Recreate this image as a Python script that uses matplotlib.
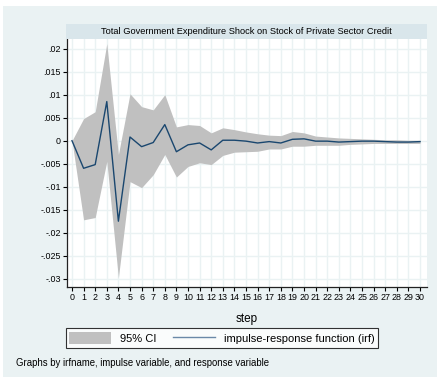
import matplotlib
matplotlib.use("Agg")
import matplotlib.pyplot as plt
from matplotlib.patches import Rectangle, Patch
from matplotlib.lines import Line2D

plt.rcParams['font.family'] = ['Liberation Sans Narrow', 'Liberation Sans', 'DejaVu Sans']

# irf results, step 0..30
steps = list(range(0, 31))
irf = [0, -0.0060, -0.0052, 0.0085, -0.0175, 0.0008, -0.0013, -0.0004, 0.0035, -0.0024,
       -0.0009, -0.0005, -0.0020, 0.0001, 0.0001, -0.0001, -0.0005, -0.0002, -0.0005, 0.0003,
       0.0004, -0.0001, -0.0001, -0.0003, -0.0002, -0.0001, -0.0001, -0.0002, -0.0003, -0.0003,
       -0.0002]
ci_upper = [0, 0.0048, 0.0063, 0.0211, -0.0030, 0.0102, 0.0074, 0.0067, 0.0100, 0.0030,
            0.0035, 0.0033, 0.0017, 0.0028, 0.0024, 0.0019, 0.0015, 0.0012, 0.0011, 0.0020,
            0.0017, 0.0010, 0.0008, 0.0006, 0.0005, 0.0004, 0.0003, 0.0002, 0.0002, 0.0001,
            0.0001]
ci_lower = [0, -0.0172, -0.0167, -0.0045, -0.0298, -0.0089, -0.0102, -0.0074, -0.0030, -0.0079,
            -0.0056, -0.0048, -0.0052, -0.0032, -0.0025, -0.0024, -0.0023, -0.0018, -0.0018, -0.0012,
            -0.0012, -0.0010, -0.0010, -0.0010, -0.0008, -0.0007, -0.0006, -0.0006, -0.0006, -0.0006,
            -0.0006]
yticks = [0.02, 0.015, 0.01, 0.005, 0, -0.005, -0.01, -0.015, -0.02, -0.025, -0.03]
ytick_labels = [".02", ".015", ".01", ".005", "0", "-.005", "-.01", "-.015", "-.02", "-.025", "-.03"]

title = "Total Government Expenditure Shock on Stock of Private Sector Credit"
note = "Graphs by irfname, impulse variable, and response variable"

bg = "#eaf2f3"
band_col = "#c0c0c0"
line_col = "#1a476f"

W, H = 437, 377
fig = plt.figure(figsize=(W / 100, H / 100), dpi=100, facecolor="white")
fig.patches.append(Rectangle((3 / W, 0), 1, 1 - 6 / H, transform=fig.transFigure,
                             facecolor=bg, edgecolor="none", zorder=-10))

ax = fig.add_axes([67 / W, 1 - 287 / H, 360 / W, 248 / H])
ax.set_facecolor("white")
ax.fill_between(steps, ci_lower, ci_upper, color=band_col, linewidth=0, zorder=2)
ax.plot(steps, irf, color=line_col, linewidth=1.0, zorder=3)

ax.set_xlim(-0.43, 30.6)
ax.set_ylim(-0.0318, 0.0221)
ax.set_xticks(steps)
ax.set_xticklabels([str(s) for s in steps], fontsize=6.4)
ax.set_yticks(yticks)
ax.set_yticklabels(ytick_labels, fontsize=6.4)
ax.grid(True, color=bg, linewidth=1.0, zorder=0)
ax.set_axisbelow(True)
for side in ["top", "right"]:
    ax.spines[side].set_visible(False)
ax.spines["left"].set_linewidth(0.9)
ax.spines["bottom"].set_linewidth(0.9)
ax.spines["left"].set_color("#222222")
ax.spines["bottom"].set_color("#222222")
ax.tick_params(axis="both", length=3, width=0.8, pad=1.5, colors="black")
ax.set_xlabel("step", fontsize=8.5, labelpad=8)

# title band above the plot region
fig.patches.append(Rectangle((66 / W, 1 - 39 / H), 361 / W, 15 / H, transform=fig.transFigure,
                             facecolor="#d9e6eb", edgecolor="none"))
fig.text((66 + 427) / 2 / W, 1 - 31.5 / H, title, ha="center", va="center", fontsize=6.7)

handles = [Patch(facecolor=band_col, edgecolor="none"),
           Line2D([], [], color="#6b89a8", linewidth=1.0)]
leg = fig.legend(handles, ["95% CI", "impulse-response function (irf)"], ncol=2,
                 loc="center", bbox_to_anchor=(222 / W, 1 - 338 / H), fontsize=8,
                 frameon=True, fancybox=False, handlelength=3.8, handleheight=1.4,
                 columnspacing=1.5, borderpad=0.3, handletextpad=0.8)
leg.get_frame().set_edgecolor("black")
leg.get_frame().set_linewidth(0.8)

fig.text(16 / W, 1 - 363 / H, note, ha="left", va="center", fontsize=6.9)

fig.savefig("out.png", dpi=100, facecolor=fig.get_facecolor())
